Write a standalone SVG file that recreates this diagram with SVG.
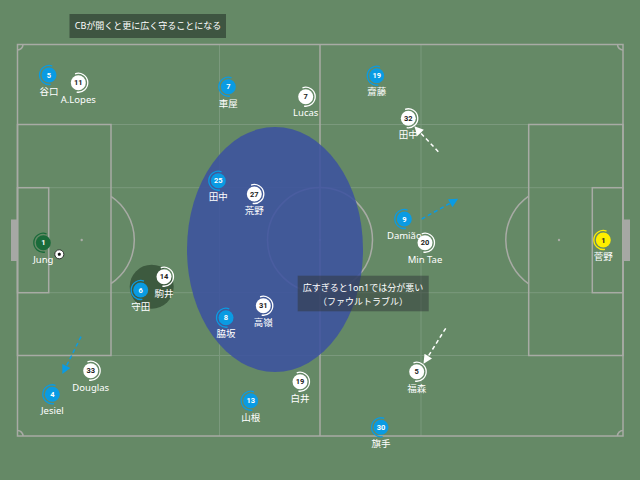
<svg xmlns="http://www.w3.org/2000/svg" xmlns:xlink="http://www.w3.org/1999/xlink" width="640" height="480" viewBox="0 0 640 480">
<defs>
<style>
.line{fill:none;stroke:#a8aba5;stroke-width:1.5}
.grid{fill:none;stroke:#7b997d;stroke-width:1}
.lbl{font-family:"Noto Sans","Noto Sans CJK JP",sans-serif;font-size:9.5px;fill:#ffffff;text-anchor:middle}
.num{font-family:"Roboto","Noto Sans",sans-serif;font-size:7.5px;font-weight:bold;text-anchor:middle}
.cap{font-family:"Noto Sans","Noto Sans CJK JP",sans-serif;font-size:9px;fill:#ffffff;text-anchor:middle}
.blue{fill:#0a9be3}
.white{fill:#ffffff}
.tb{fill:none;stroke:#0a9be3;stroke-width:1.3}
.tw{fill:none;stroke:#ffffff;stroke-width:1.3}
</style>
<path id="tailL" d="M3.25,-8.93 A9.5,9.5 0 1 0 1.65,9.36"/>
<path id="tailR" d="M-3.25,-8.93 A9.5,9.5 0 1 1 -1.65,9.36"/>
<marker id="mw" viewBox="0 0 10 10" refX="9" refY="5" markerWidth="7" markerHeight="6" orient="auto" markerUnits="strokeWidth"><path d="M0,0 L10,5 L0,10 Z" fill="#ffffff"/></marker>
<marker id="mb" viewBox="0 0 10 10" refX="9" refY="5" markerWidth="7" markerHeight="6" orient="auto" markerUnits="strokeWidth"><path d="M0,0 L10,5 L0,10 Z" fill="#0a9be3"/></marker>
</defs>
<rect x="0" y="0" width="640" height="480" fill="#658966"/>
<g id="pitch">
<line class="grid" x1="219.5" y1="44.5" x2="219.5" y2="436"/>
<line class="grid" x1="421" y1="44.5" x2="421" y2="436"/>
<line class="grid" x1="17.5" y1="124.5" x2="623" y2="124.5"/>
<line class="grid" x1="17.5" y1="355.5" x2="623" y2="355.5"/>
<line class="grid" x1="17.5" y1="187.7" x2="623" y2="187.7"/>
<line class="grid" x1="17.5" y1="292.7" x2="623" y2="292.7"/>
<rect class="line" x="17.5" y="44.5" width="605.5" height="391.5"/>
<line class="line" x1="320" y1="44.5" x2="320" y2="436"/>
<circle class="line" cx="320" cy="240" r="52.5"/>
<circle cx="320" cy="240" r="1.2" fill="#aaaca7"/>
<rect class="line" x="17.5" y="124.5" width="93.5" height="231"/>
<rect class="line" x="17.5" y="187.7" width="31.2" height="105"/>
<rect class="line" x="528.7" y="124.5" width="94.3" height="231"/>
<rect class="line" x="592.3" y="187.7" width="30.7" height="105"/>
<path class="line" d="M111,196.3 A52.6,52.6 0 0 1 111,283.7"/>
<path class="line" d="M528.7,196.2 A53.3,53.3 0 0 0 528.7,283.8"/>
<circle cx="81.7" cy="240" r="1.2" fill="#aaaca7"/>
<circle cx="559" cy="240" r="1.2" fill="#aaaca7"/>
<rect x="11" y="219.5" width="6.5" height="41.5" fill="#a6a8a4"/>
<rect x="623.5" y="219.5" width="6.5" height="41.5" fill="#a6a8a4"/>
<path class="line" d="M17.5,50 A5.5,5.5 0 0 0 23,44.5"/>
<path class="line" d="M617.5,44.5 A5.5,5.5 0 0 0 623,50"/>
<path class="line" d="M17.5,430.5 A5.5,5.5 0 0 1 23,436"/>
<path class="line" d="M617.5,436 A5.5,5.5 0 0 1 623,430.5"/>
</g>
<ellipse id="zone" cx="275" cy="249.5" rx="88" ry="122.5" fill="#3c51a0" fill-opacity="0.87"/>
<circle id="pressure" cx="151.7" cy="286.7" r="22" fill="#3d5a3f"/>
<g id="connectors" stroke-width="1.5" fill="none" stroke-dasharray="4 3">
<line x1="438.3" y1="151.7" x2="415" y2="127" stroke="#ffffff" marker-end="url(#mw)"/>
<line x1="421.7" y1="219" x2="457.3" y2="199.3" stroke="#0a9be3" marker-end="url(#mb)"/>
<line x1="445.7" y1="328.3" x2="424" y2="363" stroke="#ffffff" marker-end="url(#mw)"/>
<line x1="81" y1="336.7" x2="62.7" y2="373.3" stroke="#0a9be3" marker-end="url(#mb)"/>
</g>
<g id="cap1">
<rect x="69.5" y="14" width="156.5" height="24" fill="#3e5541"/>
<text class="cap" x="148" y="29">CBが開くと更に広く守ることになる</text>
</g>
<g id="cap2">
<rect x="297.7" y="275.7" width="131" height="35.6" fill="#2f3538" fill-opacity="0.5"/>
<text class="cap" x="363" y="291">広すぎると1on1では分が悪い</text>
<text class="cap" x="363" y="304.5">（ファウルトラブル）</text>
</g>
<g id="b5" transform="translate(49,75)"><use href="#tailL" class="tb"/><circle r="7.5" class="blue"/><text class="num" y="2.7" fill="#fff">5</text><text class="lbl" y="20">谷口</text></g>
<g id="w11" transform="translate(78.3,82.7)"><use href="#tailR" class="tw"/><circle r="7.5" class="white"/><text class="num" y="2.7" fill="#222">11</text><text class="lbl" y="20">A.Lopes</text></g>
<g id="b7" transform="translate(228.3,86.7)"><use href="#tailL" class="tb"/><circle r="7.5" class="blue"/><text class="num" y="2.7" fill="#fff">7</text><text class="lbl" y="20">車屋</text></g>
<g id="w7" transform="translate(305.7,96.7)"><use href="#tailR" class="tw"/><circle r="7.5" class="white"/><text class="num" y="2.7" fill="#222">7</text><text class="lbl" y="19">Lucas</text></g>
<g id="b19" transform="translate(376.7,75.7)"><use href="#tailL" class="tb"/><circle r="7.5" class="blue"/><text class="num" y="2.7" fill="#fff">19</text><text class="lbl" y="19">齋藤</text></g>
<g id="w32" transform="translate(408.3,118.3)"><use href="#tailR" class="tw"/><circle r="7.5" class="white"/><text class="num" y="2.7" fill="#222">32</text><text class="lbl" y="19.5">田中</text></g>
<g id="g1" transform="translate(43.3,242.7)"><use href="#tailL" fill="none" stroke="#1a6b3a" stroke-width="1.3"/><circle r="7.5" fill="#1a6b3a"/><text class="num" y="2.7" fill="#fff">1</text><text class="lbl" y="20">Jung</text></g>
<g id="ball" transform="translate(59.3,254.3)"><circle r="4.5" fill="#ffffff" stroke="#111" stroke-width="0.8"/><path d="M0,-1.8 L1.7,-0.6 L1.05,1.45 L-1.05,1.45 L-1.7,-0.6 Z" fill="#111"/></g>
<g id="b25" transform="translate(218.3,180.7)"><use href="#tailL" class="tb"/><circle r="7.5" class="blue"/><text class="num" y="2.7" fill="#fff">25</text><text class="lbl" y="19.5">田中</text></g>
<g id="w27" transform="translate(254.3,194)"><use href="#tailR" class="tw"/><circle r="7.5" class="white"/><text class="num" y="2.7" fill="#222">27</text><text class="lbl" y="20">荒野</text></g>
<g id="w14" transform="translate(164,276.7)"><use href="#tailR" class="tw"/><circle r="7.5" class="white"/><text class="num" y="2.7" fill="#222">14</text><text class="lbl" y="20">駒井</text></g>
<g id="b6" transform="translate(140.7,290)"><use href="#tailL" class="tb"/><circle r="7.5" class="blue"/><text class="num" y="2.7" fill="#fff">6</text><text class="lbl" y="19.5">守田</text></g>
<g id="b9" transform="translate(404.3,219)"><use href="#tailL" class="tb"/><circle r="7.5" class="blue"/><text class="num" y="2.7" fill="#fff">9</text><text class="lbl" y="20">Damião</text></g>
<g id="w20" transform="translate(425,242.7)"><use href="#tailR" class="tw"/><circle r="7.5" class="white"/><text class="num" y="2.7" fill="#222">20</text><text class="lbl" y="20">Min Tae</text></g>
<g id="y1" transform="translate(603.3,240)"><use href="#tailL" fill="none" stroke="#ffee00" stroke-width="1.3"/><circle r="7.5" fill="#ffee00"/><text class="num" y="2.7" fill="#222">1</text><text class="lbl" y="20">菅野</text></g>
<g id="w31" transform="translate(263.3,305.7)"><use href="#tailR" class="tw"/><circle r="7.5" class="white"/><text class="num" y="2.7" fill="#222">31</text><text class="lbl" y="20">高嶺</text></g>
<g id="b8" transform="translate(226,317.7)"><use href="#tailL" class="tb"/><circle r="7.5" class="blue"/><text class="num" y="2.7" fill="#fff">8</text><text class="lbl" y="19.5">脇坂</text></g>
<g id="w5" transform="translate(416.7,371.7)"><use href="#tailR" class="tw"/><circle r="7.5" class="white"/><text class="num" y="2.7" fill="#222">5</text><text class="lbl" y="20">福森</text></g>
<g id="w33" transform="translate(90.7,370.7)"><use href="#tailR" class="tw"/><circle r="7.5" class="white"/><text class="num" y="2.7" fill="#222">33</text><text class="lbl" y="20">Douglas</text></g>
<g id="b4" transform="translate(52.3,394.3)"><use href="#tailL" class="tb"/><circle r="7.5" class="blue"/><text class="num" y="2.7" fill="#fff">4</text><text class="lbl" y="20">Jesiel</text></g>
<g id="b13" transform="translate(250.7,400.7)"><use href="#tailL" class="tb"/><circle r="7.5" class="blue"/><text class="num" y="2.7" fill="#fff">13</text><text class="lbl" y="20">山根</text></g>
<g id="w19" transform="translate(300,381.7)"><use href="#tailR" class="tw"/><circle r="7.5" class="white"/><text class="num" y="2.7" fill="#222">19</text><text class="lbl" y="20">白井</text></g>
<g id="b30" transform="translate(381,427.3)"><use href="#tailL" class="tb"/><circle r="7.5" class="blue"/><text class="num" y="2.7" fill="#fff">30</text><text class="lbl" y="20">旗手</text></g>
</svg>
